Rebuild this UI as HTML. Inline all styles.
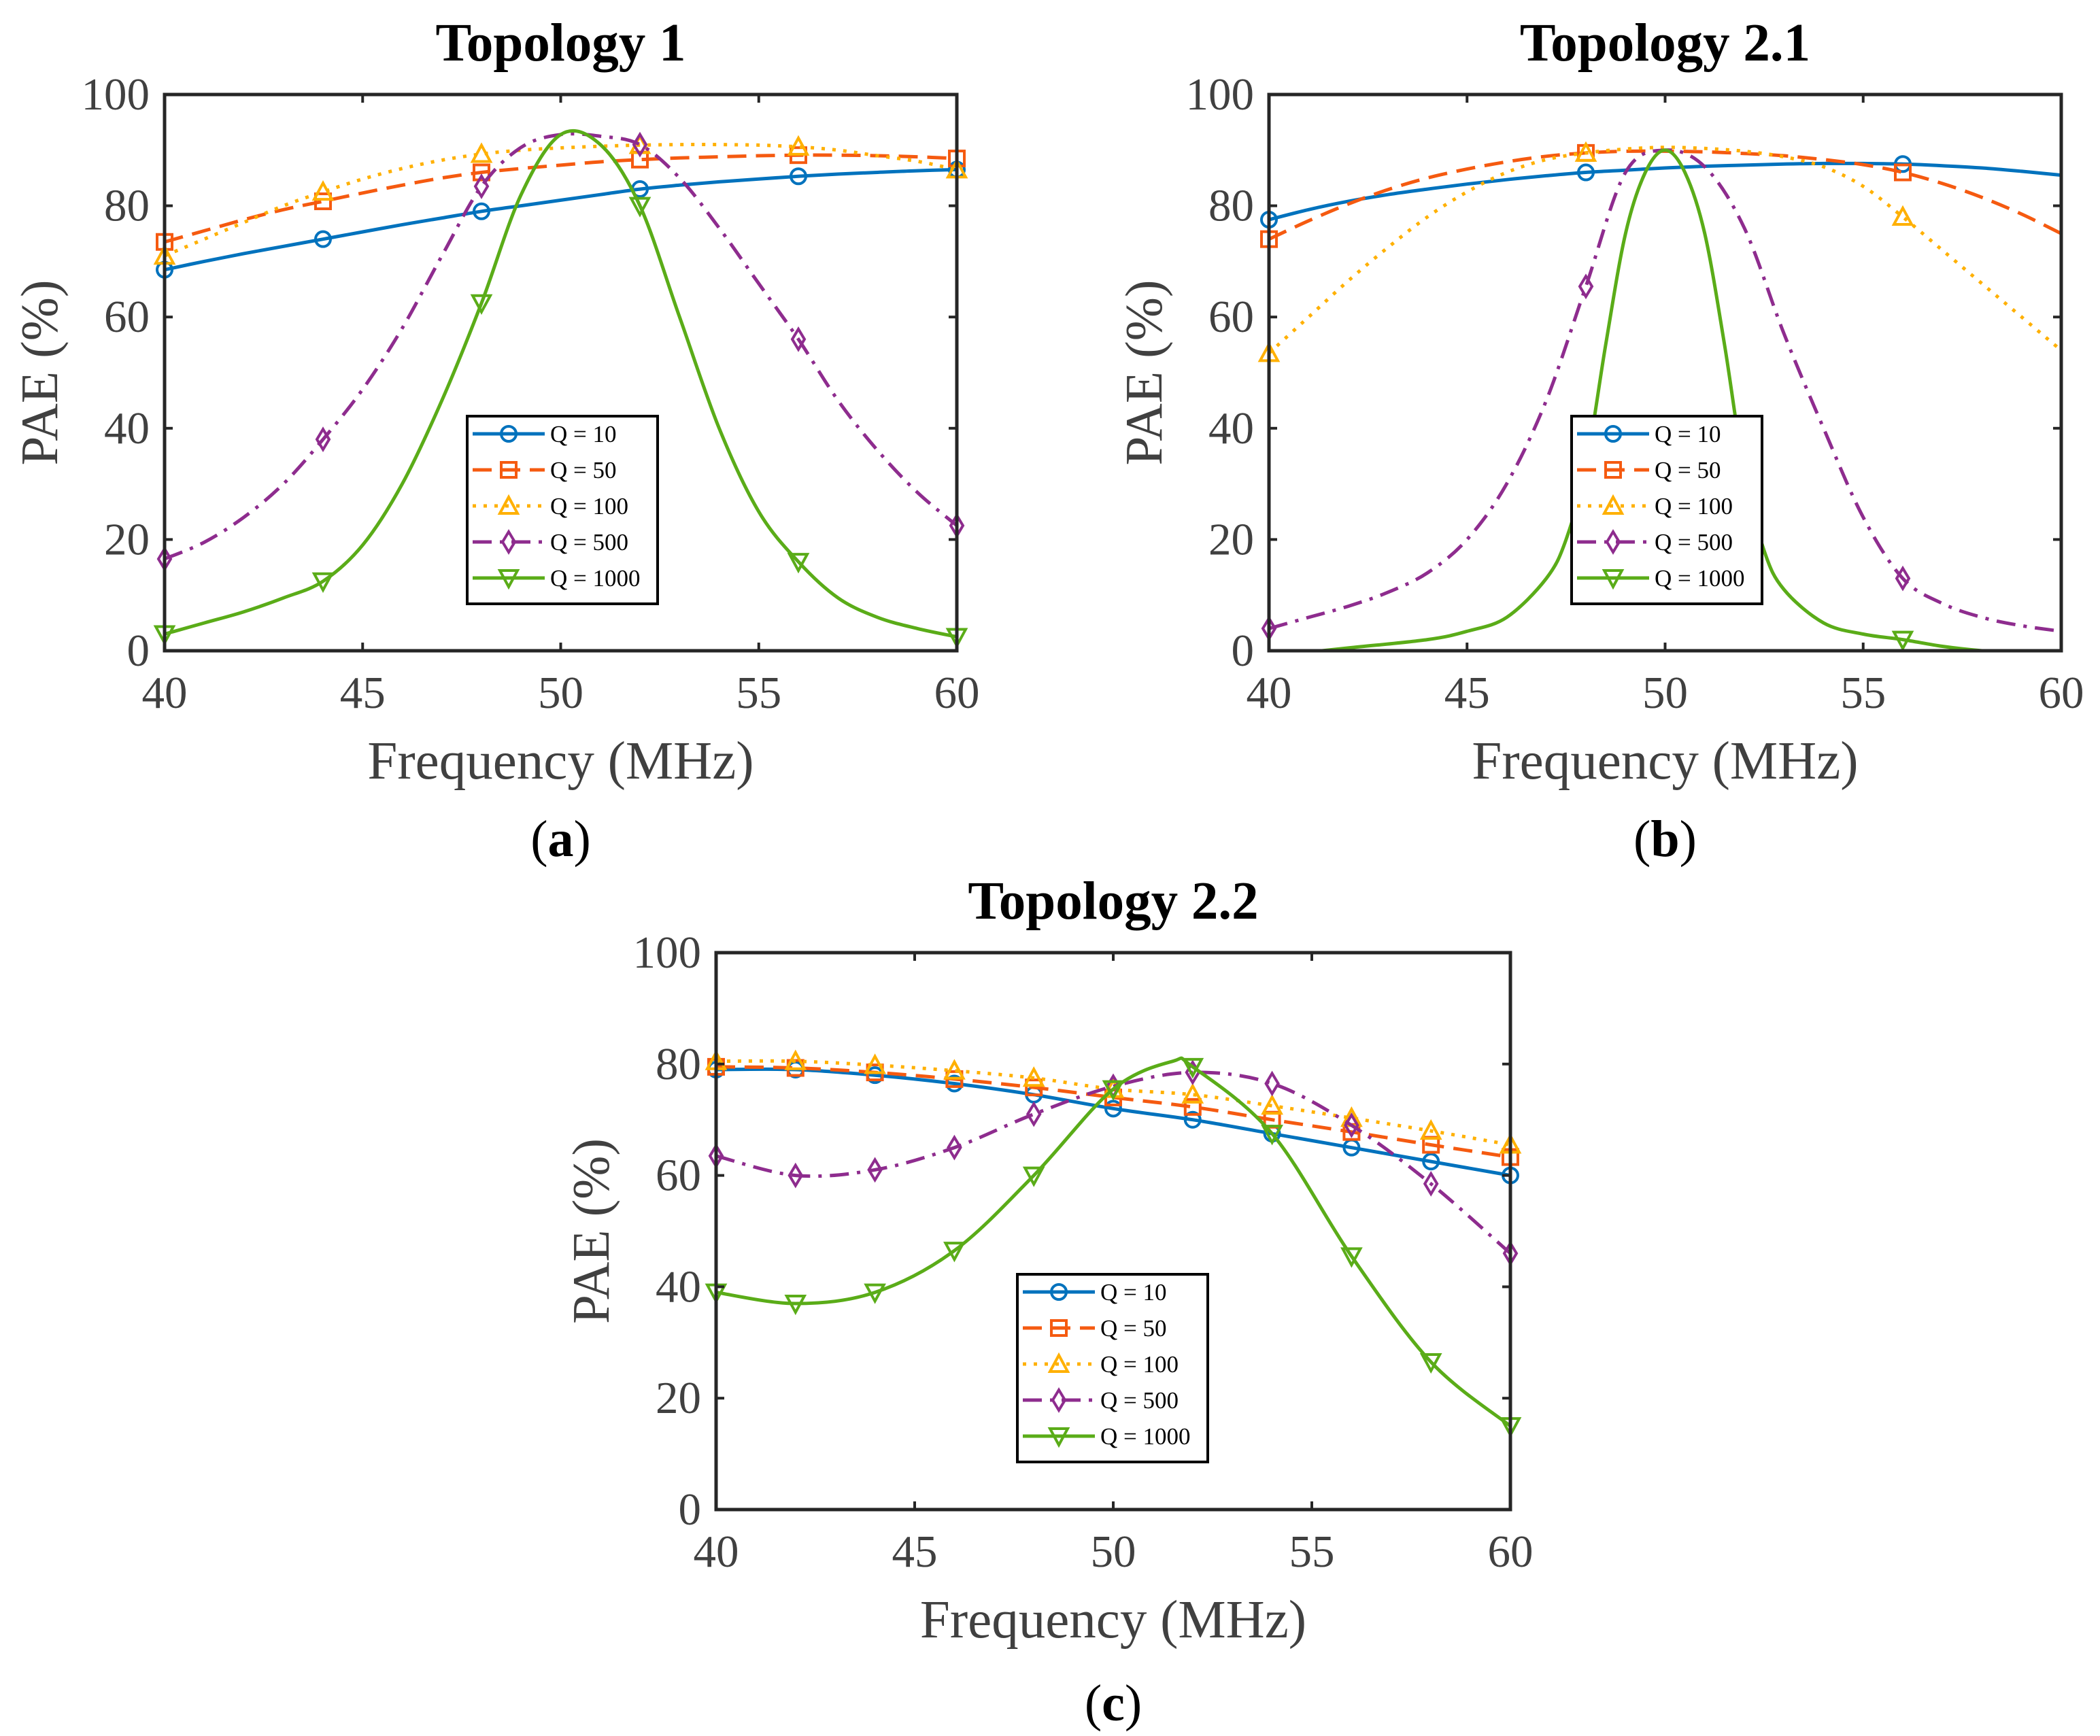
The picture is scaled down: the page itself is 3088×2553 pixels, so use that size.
<!DOCTYPE html>
<html><head><meta charset="utf-8"><title>PAE vs Frequency</title>
<style>html,body{margin:0;padding:0;background:#fff}svg{display:block}</style></head>
<body>
<svg id="fig" xmlns="http://www.w3.org/2000/svg" width="3088" height="2553" viewBox="0 0 3088 2553"></svg>
<script>
// ---------- data: chart (a) Topology 1 ----------
const a_freq = [40,41,42,43,44,45,46,47,48,49,50,51,52,53,54,55,56,57,58,59,60];
const a_q10  = [68.5,70,71.4,72.7,74,75.3,76.6,77.8,79,80,81,82,83,83.7,84.3,84.8,85.3,85.7,86,86.3,86.5];
const a_q50  = [73.5,75.5,77.5,79.3,80.8,82.3,83.7,85,86,86.7,87.3,87.9,88.3,88.6,88.8,89,89.1,89.1,89,88.8,88.5];
const a_q100 = [71,74,77,80,82.5,84.8,86.7,88.2,89.3,90,90.4,90.7,90.9,91,91,90.9,90.6,90,89,88,86.5];
const a_q500 = [16.5,19.5,24,30,38,47,58,71,83.5,90.5,92.8,92.5,91,85,76,66,56,45,36,28.5,22.5];
const a_q1000= [3,5,7,9.5,12.5,19,30,45,62.5,82,92.8,91,80,60,40,25,16,9.5,6,4,2.5];
const a_markers = [40,44,48,52,56,60];

// ---------- data: chart (b) Topology 2.1 ----------
const b_freq = [40,41,42,43,44,45,46,47,48,49,50,51,52,53,54,55,56,57,58,59,60];
const b_q10  = [77.5,79.3,80.8,82,83,83.9,84.7,85.4,86,86.4,86.8,87.1,87.3,87.5,87.6,87.6,87.5,87.2,86.8,86.2,85.5];
const b_q50  = [74,77.3,80.3,82.9,85,86.6,87.9,88.9,89.5,89.8,89.8,89.7,89.4,89,88.3,87.4,86,84,81.5,78.5,75];
const b_q100 = [53.5,60,66.5,72.5,78,82.5,86,88.3,89.5,90.2,90.5,90.3,89.8,88.8,87,83.5,78,72,66,60,54];
const b_q500 = [4,6,8,10.5,14,20,30,45,65.5,86,90,87,76,57,40,24,13,8.5,6,4.5,3.5];
const b_q1000_freq = [40,42,44,45,46,47,47.5,48,48.5,49,49.5,50,50.5,51,51.5,52,52.5,53,54,55,56,57,58,60];
const b_q1000 = [-1,0.5,2,3.5,6,13,20,33,55,75,86,90,86,75,55,32,18,11,5,3,2,0.8,0,-1];
const b_markers = [40,48,56];

// ---------- data: chart (c) Topology 2.2 ----------
const c_freq = [40,42,44,46,48,50,52,54,56,58,60];
const c_q10  = [79,79,78,76.5,74.5,72,70,67.5,65,62.5,60];
const c_q50  = [79.5,79.3,78.5,77.3,75.8,74,72.3,70,67.8,65.5,63.3];
const c_q100 = [80.5,80.5,79.8,78.8,77.5,75.5,74.5,72.5,70.3,68,65.5];
const c_q500 = [63.5,60,61,65,71,76,78.5,76.5,69,58.5,46];
const c_q1000_freq = [40,42,44,46,48,50,51.5,52,54,56,58,60];
const c_q1000 = [39,37,39,46.5,60,75.5,80.5,79.5,67.5,45.5,26.5,15];
const c_markers = [40,42,44,46,48,50,52,54,56,58,60];

const xTicks = [40,45,50,55,60];
const yTicks = [0,20,40,60,80,100];
const legendLabels = ['Q = 10','Q = 50','Q = 100','Q = 500','Q = 1000'];

const NS='http://www.w3.org/2000/svg';
const svg=document.getElementById('fig');
const COLORS=['#0072BD','#F55A10','#FFB000','#8E2C8E','#5AAC18'];
const DASH=['none','28 14','5 11','28 12 5 12','none'];
const MARK=['circle','square','tri','diamond','tridown'];

function el(tag,attrs,parent){const e=document.createElementNS(NS,tag);for(const k in attrs)e.setAttribute(k,attrs[k]);(parent||svg).appendChild(e);return e;}

function spline(pts){
  let d='M'+pts[0][0].toFixed(1)+','+pts[0][1].toFixed(1);
  for(let i=0;i<pts.length-1;i++){
    const p0=pts[i-1]||pts[i],p1=pts[i],p2=pts[i+1],p3=pts[i+2]||pts[i+1];
    const c1=[p1[0]+(p2[0]-p0[0])/6,p1[1]+(p2[1]-p0[1])/6];
    const c2=[p2[0]-(p3[0]-p1[0])/6,p2[1]-(p3[1]-p1[1])/6];
    d+=' C'+c1[0].toFixed(1)+','+c1[1].toFixed(1)+' '+c2[0].toFixed(1)+','+c2[1].toFixed(1)+' '+p2[0].toFixed(1)+','+p2[1].toFixed(1);
  }
  return d;
}

function marker(g,type,x,y,color){
  const s=11,a={fill:'none',stroke:color,'stroke-width':4};
  let m;
  if(type==='circle')m=el('circle',Object.assign({cx:x,cy:y,r:s},a),g);
  else if(type==='square')m=el('rect',Object.assign({x:x-s,y:y-s,width:2*s,height:2*s},a),g);
  else if(type==='tri')m=el('polygon',Object.assign({points:`${x},${y-s-2} ${x-s-2},${y+s} ${x+s+2},${y+s}`},a),g);
  else if(type==='tridown')m=el('polygon',Object.assign({points:`${x},${y+s+2} ${x-s-2},${y-s} ${x+s+2},${y-s}`},a),g);
  else m=el('polygon',Object.assign({points:`${x},${y-s-4} ${x-s+2},${y} ${x},${y+s+4} ${x+s-2},${y}`},a),g);
  
  
  return m;
}

function drawChart(cfg){
  const L=cfg.left,R=cfg.right,T=cfg.top,B=cfg.bottom;
  const xs=v=>L+(v-40)/20*(R-L);
  const ys=v=>B-v/100*(B-T);
  const g=el('g',{});
  const clipId=cfg.name+'-clip';
  const cp=el('clipPath',{id:clipId},g);el('rect',{x:L,y:T,width:R-L,height:B-T},cp);
  cfg.series.forEach((s,i)=>{
    const sg=el('g',{},g);
    const pts=s.x.map((f,j)=>[xs(f),ys(s.y[j])]);
    el('path',{d:spline(pts),fill:'none',stroke:COLORS[i],'stroke-width':5,'stroke-dasharray':DASH[i],'clip-path':'url(#'+clipId+')',},sg);
    cfg.markers.forEach(mf=>{
      const j=s.x.indexOf(mf);
      if(j>=0&&s.y[j]>=-0.5)marker(sg,MARK[i],xs(mf),ys(s.y[j]),COLORS[i]);
    });
  });
  el('rect',{x:L,y:T,width:R-L,height:B-T,fill:'none',stroke:'#262626','stroke-width':5,},g);
  xTicks.forEach(t=>{
    const x=xs(t);
    el('line',{x1:x,y1:B,x2:x,y2:B-12,stroke:'#262626','stroke-width':4},g);
    el('line',{x1:x,y1:T,x2:x,y2:T+12,stroke:'#262626','stroke-width':4},g);
    const tx=el('text',{x:x,y:B+84,'text-anchor':'middle','font-size':67,fill:'#404040',},g);tx.textContent=t;
  });
  yTicks.forEach(t=>{
    const y=ys(t);
    el('line',{x1:L,y1:y,x2:L+12,y2:y,stroke:'#262626','stroke-width':4},g);
    el('line',{x1:R,y1:y,x2:R-12,y2:y,stroke:'#262626','stroke-width':4},g);
    const ty=el('text',{x:L-22,y:y+22,'text-anchor':'end','font-size':67,fill:'#404040',},g);ty.textContent=t;
  });
  const xt=el('text',{x:(L+R)/2,y:B+188,'text-anchor':'middle','font-size':79,fill:'#404040',},g);xt.textContent='Frequency (MHz)';
  const cy=(T+B)/2;
  const yt=el('text',{x:L-158,y:cy,'text-anchor':'middle','font-size':77,fill:'#404040',transform:`rotate(-90 ${L-158} ${cy})`,},g);yt.textContent='PAE (%)';
  const tt=el('text',{x:(L+R)/2,y:T-50,'text-anchor':'middle','font-size':79,'font-weight':'bold',fill:'#000',},g);tt.textContent=cfg.title;
  const sl=el('text',{x:(L+R)/2,y:B+cfg.labelOff,'text-anchor':'middle','font-size':76,fill:'#000',},g);
  sl.innerHTML='(<tspan font-weight="bold">'+cfg.label+'</tspan>)';
  const lg=el('g',{},g);
  const lx=cfg.legend[0],ly=cfg.legend[1];
  el('rect',{x:lx,y:ly,width:280,height:276,fill:'#fff',stroke:'#000','stroke-width':4},lg);
  legendLabels.forEach((lab,i)=>{
    const ey=ly+26+i*53;
    const eg=el('g',{},lg);
    el('line',{x1:lx+8,y1:ey,x2:lx+114,y2:ey,stroke:COLORS[i],'stroke-width':5,'stroke-dasharray':DASH[i]},eg);
    marker(eg,MARK[i],lx+61,ey,COLORS[i]);
    const t=el('text',{x:lx+122,y:ey+12,'font-size':35,fill:'#000'},eg);t.textContent=lab;
  });
}

svg.setAttribute('font-family','"Liberation Serif", serif');

drawChart({name:'chart-topology-1',title:'Topology 1',label:'a',left:242,right:1407,top:139,bottom:957,labelOff:302,legend:[687,612],markers:a_markers,
  series:[{x:a_freq,y:a_q10},{x:a_freq,y:a_q50},{x:a_freq,y:a_q100},{x:a_freq,y:a_q500},{x:a_freq,y:a_q1000}]});
drawChart({name:'chart-topology-2-1',title:'Topology 2.1',label:'b',left:1866,right:3031,top:139,bottom:957,labelOff:302,legend:[2311,612],markers:b_markers,
  series:[{x:b_freq,y:b_q10},{x:b_freq,y:b_q50},{x:b_freq,y:b_q100},{x:b_freq,y:b_q500},{x:b_q1000_freq,y:b_q1000}]});
drawChart({name:'chart-topology-2-2',title:'Topology 2.2',label:'c',left:1053,right:2221,top:1401,bottom:2220,labelOff:310,legend:[1496,1874],markers:c_markers,
  series:[{x:c_freq,y:c_q10},{x:c_freq,y:c_q50},{x:c_freq,y:c_q100},{x:c_freq,y:c_q500},{x:c_q1000_freq,y:c_q1000}]});
</script>
</body></html>
